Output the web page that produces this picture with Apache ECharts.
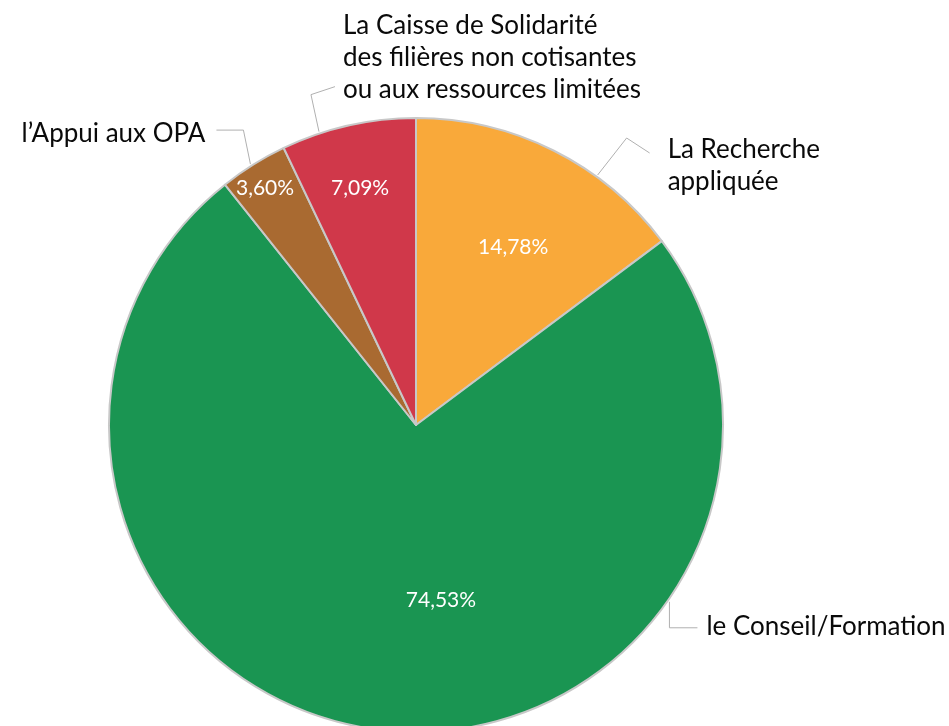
<!DOCTYPE html>
<html>
<head>
<meta charset="utf-8">
<script src="https://cdn.jsdelivr.net/npm/echarts@6/dist/echarts.min.js"></script>
<style>
html,body{margin:0;padding:0;background:#fff;}
#chart{width:949px;height:726px;}
</style>
</head>
<body>
<div id="chart"></div>
<script>
// ---- data ----
var categories = [
  'La Recherche\nappliquée',
  'le Conseil/Formation',
  'l\u2019Appui aux OPA',
  'La Caisse de Solidarité\ndes filières non cotisantes\nou aux ressources limitées'
];
var values = [14.78, 74.53, 3.60, 7.09];
var percentLabels = ['14,78%', '74,53%', '3,60%', '7,09%'];
var colors = ['#F9A93A', '#1A9552', '#A96A31', '#D0384A'];

// ---- layout (not data) ----
var CX = 416, CY = 425, R = 307;
// inside label placement: [angle deg, distance from centre]
var innerPos = [[61.4, 203], [-81.9, 177], [122.5, 281], [103.3, 243]];
// outer leader lines: anchor angle on rim, elbow offset, end offset, label offset from end, align
var outerPos = [
  {a: 54.0, elbow: [29, -37], end: [52, -22], lab: [18, 13], align: 'left'},
  {a: -34.9, elbow: [0, 26], end: [28, 26], lab: [9, -1], align: 'left'},
  {a: 122.4, elbow: [-7, -34], end: [-34, -34], lab: [-11, 4], align: 'right'},
  {a: 108.3, elbow: [-8, -37], end: [16, -45], lab: [8, -29], align: 'left'}
];
function polar(angle, dist) {
  var r = angle * Math.PI / 180;
  return [CX + dist * Math.cos(r), CY - dist * Math.sin(r)];
}

var chart = echarts.init(document.getElementById('chart'));
var pieData = categories.map(function (c, i) {
  return {name: c, value: values[i], itemStyle: {color: colors[i]}};
});
var option = {
  animation: false,
  series: [
    {
      type: 'pie',
      center: [CX, CY],
      radius: R,
      startAngle: 90,
      clockwise: true,
      avoidLabelOverlap: false,
      itemStyle: {borderColor: '#c8c8c8', borderWidth: 2},
      label: {
        show: true,
        position: 'inside',
        color: '#ffffff',
        fontFamily: 'Lato',
        fontSize: 21,
        formatter: function (p) { return percentLabels[p.dataIndex]; }
      },
      labelLine: {show: false},
      labelLayout: function (p) {
        var ip = innerPos[p.dataIndex];
        var pt = polar(ip[0], ip[1]);
        return {x: pt[0], y: pt[1], align: 'center', verticalAlign: 'middle'};
      },
      emphasis: {disabled: true},
      data: pieData
    },
    {
      type: 'pie',
      center: [CX, CY],
      radius: R,
      startAngle: 90,
      clockwise: true,
      silent: true,
      avoidLabelOverlap: false,
      itemStyle: {color: 'rgba(0,0,0,0)', borderWidth: 0},
      label: {
        show: true,
        position: 'outside',
        color: '#0a0a0a',
        fontFamily: 'Lato',
        fontSize: 26,
        lineHeight: 32,
        formatter: '{b}'
      },
      labelLine: {show: true, length: 20, length2: 20, lineStyle: {color: '#b0b0b0', width: 1, opacity: 1}},
      labelLayout: function (p) {
        var o = outerPos[p.dataIndex];
        var a = polar(o.a, R + 2);
        var e = [a[0] + o.elbow[0], a[1] + o.elbow[1]];
        var f = [a[0] + o.end[0], a[1] + o.end[1]];
        return {
          x: f[0] + o.lab[0], y: f[1] + o.lab[1],
          align: o.align, verticalAlign: 'middle',
          labelLinePoints: [a, e, f]
        };
      },
      emphasis: {disabled: true},
      data: categories.map(function (c, i) {
        return {name: c, value: values[i]};
      })
    }
  ]
};
chart.setOption(option);
</script>
</body>
</html>
